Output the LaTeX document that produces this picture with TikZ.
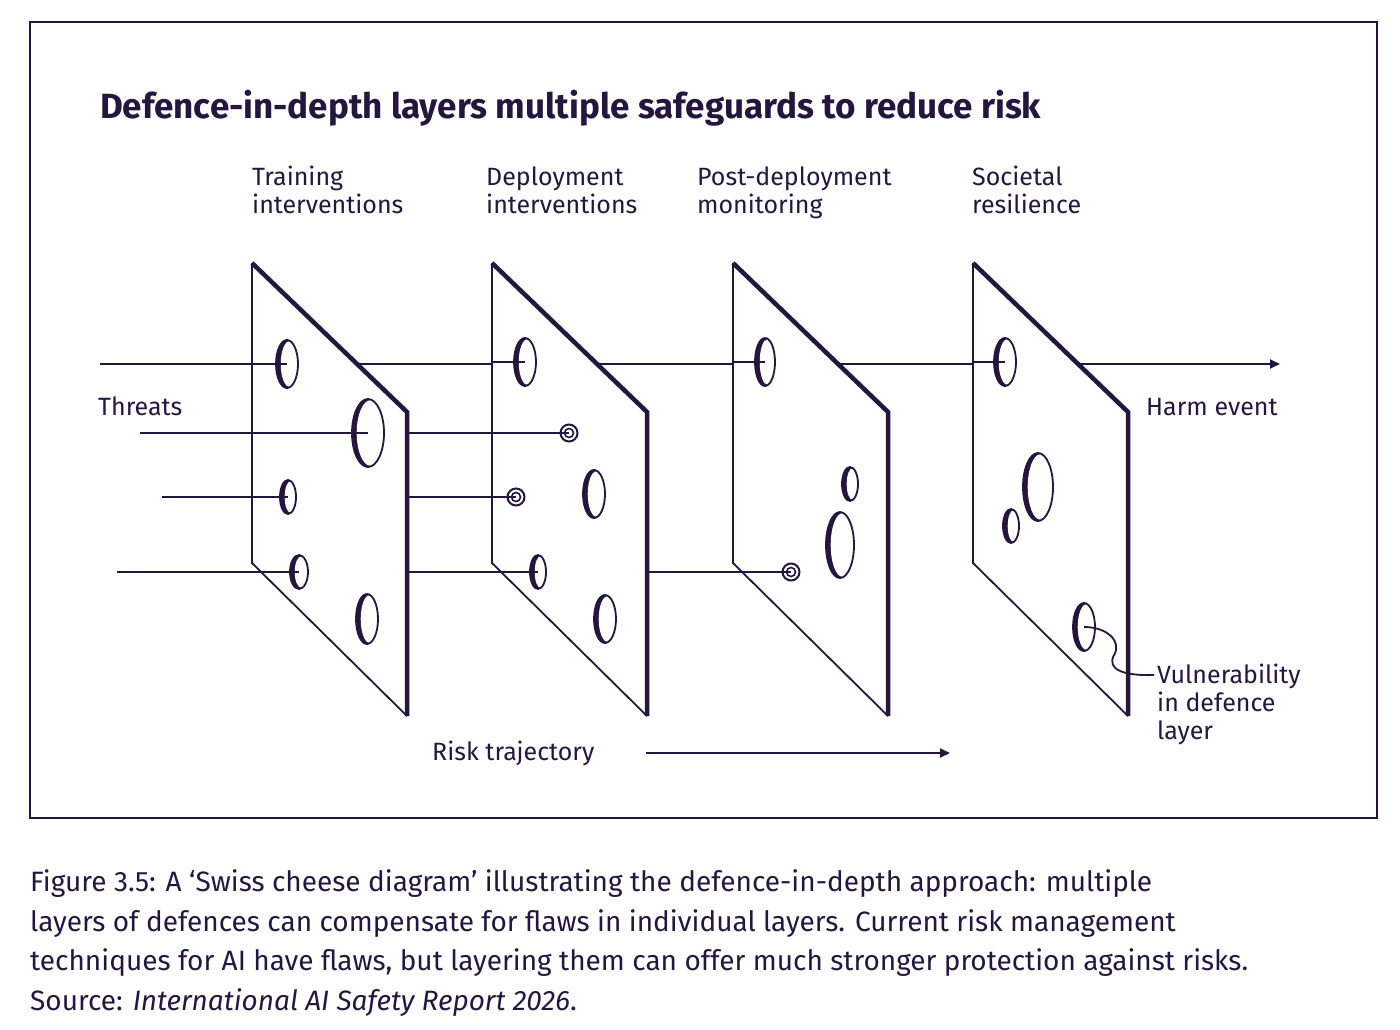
\documentclass[tikz,border=0pt]{standalone}
\usepackage{fontspec}
\setmainfont{Fira Sans}
\usetikzlibrary{arrows.meta}
\definecolor{ink}{HTML}{24163F}

% hole with a dark crescent on its left side
\newcommand{\cheesehole}[4]{%
  \coordinate (#1) at (#2);
  \fill[ink] (#2) ellipse ({#3} and {#4});
  \fill[white] ($(#2)+(2.5,0)$) ellipse ({#3-2.2} and {#4-1.2});
  \draw[thin line] (#2) ellipse ({#3} and {#4});
}
% small hole where a threat stops
\newcommand{\cheesetarget}[2]{%
  \coordinate (#1) at (#2);
  \fill[white] (#2) circle (9);
  \draw[ink,line width=2pt] (#2) circle (8.5);
  \draw[ink,line width=1.6pt] (#2) circle (4.5);
}
% one layer of defence, left top corner at x
\newcommand{\layer}[2]{%
  \coordinate (#1-a) at (#2,263);
  \coordinate (#1-b) at (#2+155,412);
  \coordinate (#1-c) at (#2+155,716);
  \coordinate (#1-d) at (#2,563);
  \fill[white] (#1-a) -- (#1-b) -- (#1-c) -- (#1-d) -- cycle;
  \draw[thin line] (#1-a) -- (#1-d) -- (#1-c);
  \draw[thick line] (#1-a) -- (#1-b) -- (#1-c);
}
\usetikzlibrary{calc}

\begin{document}
\begin{tikzpicture}[x=1pt,y=-1pt,
    thin line/.style={ink,line width=1.8pt},
    thick line/.style={ink,line width=4.5pt},
    threat/.style={ink,line width=1.8pt},
    label/.style={text=ink,font=\fontsize{25}{28}\selectfont,anchor=base west,
                  align=left,inner sep=0pt}]
  \useasboundingbox (0,0) rectangle (1400,1030);
  \draw[ink,line width=1.5pt] (30,22) rectangle (1377,818);

  \node[label,font=\bfseries\fontsize{35}{40}\selectfont] (title) at (100,119)
    {Defence-in-depth layers multiple safeguards to reduce risk};

  \node[label] (l1) at (252,213) {Training\\interventions};
  \node[label] (l2) at (486,213) {Deployment\\interventions};
  \node[label] (l3) at (697,213) {Post-deployment\\monitoring};
  \node[label] (l4) at (972,213) {Societal\\resilience};
  \node[label] (threats) at (98,415) {Threats};
  \node[label] (harm) at (1146,415) {Harm event};
  \node[label] (vuln) at (1157,739) {Vulnerability\\in defence\\layer};
  \node[label] (risk) at (432,760) {Risk trajectory};

  % start and end points of the threats
  \coordinate (s1) at (100,364);
  \coordinate (s2) at (140,433);
  \coordinate (s3) at (162,497);
  \coordinate (s4) at (117,572);
  \coordinate (e1) at (1280,364);
  \coordinate (e2) at (569,433);
  \coordinate (e3) at (516,497);
  \coordinate (e4) at (791,572);

  \draw[threat,-{Triangle[length=10pt,width=9pt]}] (s1) -- (e1);
  \draw[threat] (s2) -- (e2);
  \draw[threat] (s3) -- (e3);
  \draw[threat] (s4) -- (e4);

  \layer{A}{252}
  \layer{B}{492}
  \layer{C}{733}
  \layer{D}{973}

  \cheesehole{A1}{287,364}{11}{24}
  \cheesehole{A2}{368,433}{16}{34}
  \cheesehole{A3}{288,497}{8}{17}
  \cheesehole{A4}{299,572}{9}{17}
  \cheesehole{A5}{367,619}{11}{25}

  \cheesehole{B1}{525,362}{11}{24}
  \cheesehole{B2}{594,494}{11}{24}
  \cheesehole{B3}{538,572}{8}{17}
  \cheesehole{B4}{605,619}{11}{24}
  \cheesetarget{B5}{569,433}
  \cheesetarget{B6}{516,497}

  \cheesehole{C1}{765,362}{10}{24}
  \cheesehole{C2}{850,484}{8}{17}
  \cheesehole{C3}{840,545}{14}{33}
  \cheesetarget{C4}{791,572}

  \cheesehole{D1}{1005,362}{11}{24}
  \cheesehole{D2}{1038,487}{15}{34}
  \cheesehole{D3}{1011,526}{8}{17}
  \cheesehole{D4}{1084,627}{11}{24}

  % threat segments lying on the front of a layer
  \draw[threat] (A-a |- A1) -- (A1);
  \draw[threat] (A-a |- A2) -- (A2);
  \draw[threat] (A-a |- A3) -- (A3);
  \draw[threat] (A-a |- A4) -- (A4);
  \draw[threat] (B-a |- B1) -- (B1);
  \draw[threat] (B-a |- B5) -- (B5);
  \draw[threat] (B-a |- B6) -- (B6);
  \draw[threat] (B-a |- B3) -- (B3);
  \draw[threat] (C-a |- C1) -- (C1);
  \draw[threat] (C-a |- C4) -- (C4);
  \draw[threat] (D-a |- D1) -- (D1);

  \draw[threat] (D4) .. controls (1108,627) and (1122,642) .. (1114,655)
    .. controls (1106,670) and (1125,676) .. ($(vuln.west |- 0,675)+(-3,0)$);

  \coordinate (r1) at (646,753);
  \coordinate (r2) at (950,753);
  \draw[threat,-{Triangle[length=10pt,width=9pt]}] (r1) -- (r2);

  \node[label,font=\fontsize{28}{39.5}\selectfont] (caption) at (30,1010)
    {Figure 3.5: A `Swiss cheese diagram' illustrating the defence-in-depth approach: multiple\\
     layers of defences can compensate for flaws in individual layers. Current risk management\\
     techniques for AI have flaws, but layering them can offer much stronger protection against risks.\\
     Source: \textit{International AI Safety Report 2026}.};
\end{tikzpicture}
\end{document}
